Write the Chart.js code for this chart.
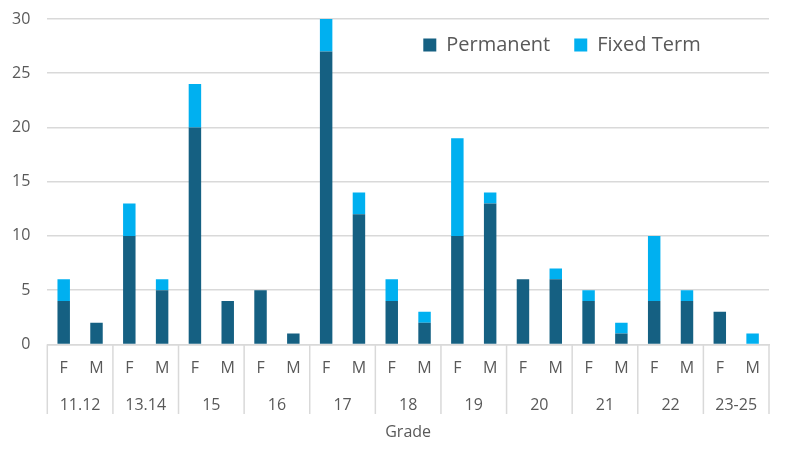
<!DOCTYPE html>
<html>
<head>
<meta charset="utf-8">
<script src="https://cdn.jsdelivr.net/npm/chart.js@4"></script>
<style>
  html, body { margin: 0; padding: 0; background: #fff; }
  #wrap { width: 785px; height: 451px; }
</style>
</head>
<body>
<div id="wrap"><canvas id="gradeChart"></canvas></div>
<script>
const grades = ["11.12", "13.14", "15", "16", "17", "18", "19", "20", "21", "22", "23-25"];
const genders = ["F", "M"];
const permanent = [4, 2, 10, 5, 20, 4, 5, 1, 27, 12, 4, 2, 10, 13, 6, 6, 4, 1, 4, 4, 3, 0];
const fixedTerm = [2, 0, 3, 1, 4, 0, 0, 0, 3, 2, 2, 1, 9, 1, 0, 1, 1, 1, 6, 1, 0, 1];
const yTicks = [0, 5, 10, 15, 20, 25, 30];

const labels = [];
grades.forEach(g => genders.forEach(s => labels.push(s)));

const gridColor = "#d9d9d9";
const textColor = "#595959";
const fontFamily = "'Open Sans', sans-serif";

// legend sits inside the plot, group separators under the axis
const groupLines = {
  id: "groupLines",
  beforeLayout(chart) {
    const lg = chart.legend;
    if (lg && !lg._patched) {
      const origFit = lg.fit;
      lg.fit = function () {
        origFit.call(this);
        this.height = 0;
      };
      lg._patched = true;
    }
  },
  afterLayout(chart) {
    const lg = chart.legend;
    const area = chart.chartArea;
    lg.top = area.top - 8;
    lg.bottom = lg.top + 60;
    lg.right = area.left + 376 + lg.lineWidths[0];
  },
  afterDraw(chart) {
    const x = chart.scales.x;
    const x2 = chart.scales.x2;
    const ctx = chart.ctx;
    ctx.save();
    ctx.strokeStyle = gridColor;
    ctx.lineWidth = 1.5;
    for (let i = 0; i <= grades.length; i++) {
      let px;
      if (i === 0) px = x.left;
      else if (i === grades.length) px = x.right;
      else px = (x.getPixelForValue(2 * i - 1) + x.getPixelForValue(2 * i)) / 2;
      ctx.beginPath();
      ctx.moveTo(px, x.top);
      ctx.lineTo(px, x2.bottom - 28);
      ctx.stroke();
    }
    ctx.restore();
  }
};

new Chart(document.getElementById("gradeChart").getContext("2d"), {
  type: "bar",
  data: {
    labels: labels,
    datasets: [
      {
        label: "Permanent",
        data: permanent,
        backgroundColor: "#156082",
        borderWidth: 0,
        barPercentage: 0.38,
        categoryPercentage: 1
      },
      {
        label: "Fixed Term",
        data: fixedTerm,
        backgroundColor: "#00b0f0",
        borderWidth: 0,
        barPercentage: 0.38,
        categoryPercentage: 1
      }
    ]
  },
  options: {
    responsive: true,
    maintainAspectRatio: false,
    animation: false,
    layout: { padding: { top: 19, right: 16, left: 8, bottom: 9 } },
    plugins: {
      tooltip: { enabled: false },
      legend: {
        position: "top",
        align: "end",
        labels: {
          boxWidth: 13,
          boxHeight: 13,
          padding: 24,
          color: textColor,
          font: { family: fontFamily, size: 20 }
        }
      }
    },
    scales: {
      x: {
        stacked: true,
        grid: { display: false, drawTicks: false },
        border: { display: true, color: gridColor, width: 1.5 },
        ticks: {
          color: textColor,
          padding: 14,
          font: { family: fontFamily, size: 16 }
        }
      },
      x2: {
        type: "category",
        labels: grades,
        position: "bottom",
        offset: true,
        grid: { display: false, drawTicks: false },
        border: { display: false },
        ticks: {
          color: textColor,
          padding: 4,
          font: { family: fontFamily, size: 16 }
        },
        title: {
          display: true,
          text: "Grade",
          color: textColor,
          padding: { top: 4, bottom: 0 },
          font: { family: fontFamily, size: 16 }
        }
      },
      y: {
        stacked: true,
        min: 0,
        max: 30,
        afterBuildTicks: axis => { axis.ticks = yTicks.map(v => ({ value: v })); },
        grid: {
          color: gridColor,
          lineWidth: 1.5,
          drawTicks: true,
          tickLength: 13,
          tickColor: "rgba(0,0,0,0)"
        },
        border: { display: false },
        ticks: {
          color: textColor,
          padding: 4,
          font: { family: fontFamily, size: 16 }
        }
      }
    }
  },
  plugins: [groupLines]
});
</script>
</body>
</html>
